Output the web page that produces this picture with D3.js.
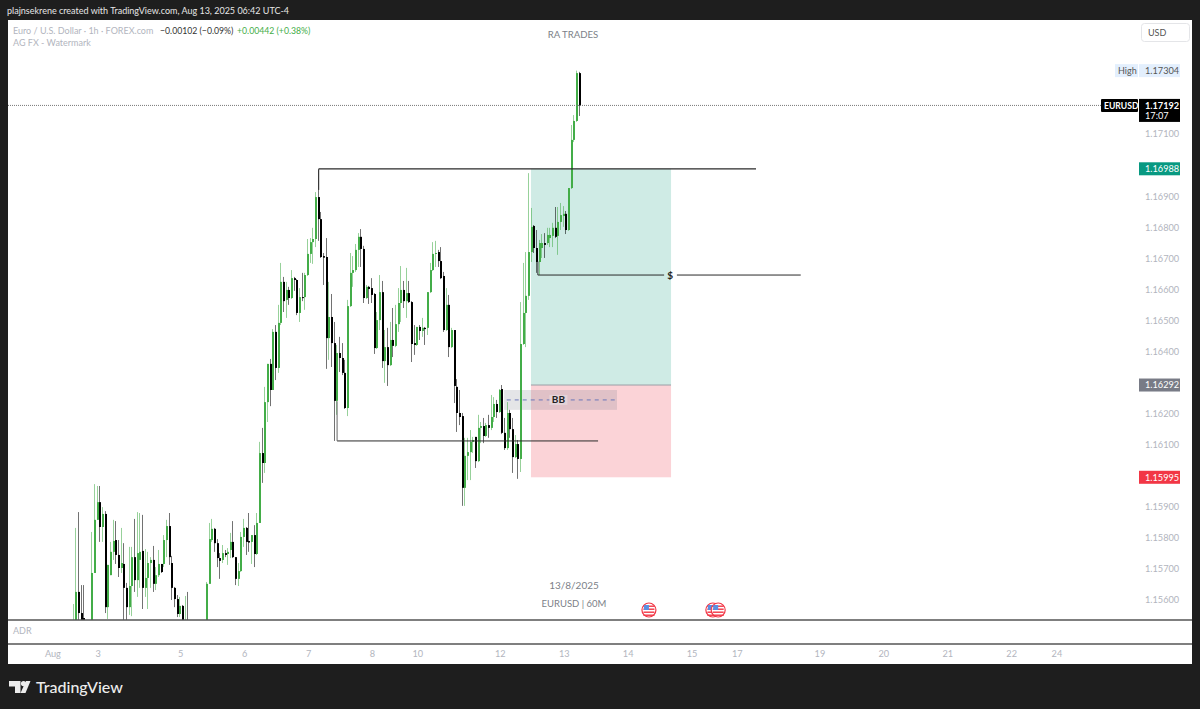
<!DOCTYPE html>
<html>
<head>
<meta charset="utf-8">
<script src="https://cdn.jsdelivr.net/npm/d3@7"></script>
<style>
html, body { margin: 0; padding: 0; background: #1e1e1e; }
svg { display: block; }
text { font-family: Lato, "Noto Sans", sans-serif; }
</style>
</head>
<body>
<script>
// hourly EURUSD bars; bars 44-49 sit below the pane
var opens = [1.15503,1.15520,1.15626,1.15558,1.15542,1.15503,1.15471,1.15520,1.15687,1.15858,1.15915,1.15835,1.15877,1.15577,1.15680,1.15755,1.15793,1.15745,1.15703,1.15716,1.15639,1.15577,1.15645,1.15738,1.15664,1.15729,1.15758,1.15639,1.15671,1.15719,1.15729,1.15652,1.15680,1.15716,1.15716,1.15793,1.15838,1.15719,1.15639,1.15603,1.15555,1.15581,1.15497,1.15510,1.15471,1.15445,1.15478,1.15439,1.15484,1.15455,1.15503,1.15652,1.15793,1.15829,1.15783,1.15735,1.15729,1.15751,1.15748,1.15761,1.15787,1.15738,1.15668,1.15693,1.15803,1.15832,1.15790,1.15787,1.15809,1.15748,1.15848,1.16073,1.16041,1.16237,1.16360,1.16276,1.16463,1.16347,1.16492,1.16624,1.16566,1.16598,1.16572,1.16636,1.16630,1.16524,1.16575,1.16575,1.16646,1.16714,1.16752,1.16762,1.16897,1.16826,1.16707,1.16704,1.16443,1.16511,1.16427,1.16241,1.16395,1.16379,1.16331,1.16218,1.16546,1.16653,1.16662,1.16727,1.16769,1.16730,1.16572,1.16608,1.16604,1.16585,1.16411,1.16501,1.16591,1.16369,1.16414,1.16356,1.16437,1.16418,1.16488,1.16556,1.16598,1.16562,1.16588,1.16559,1.16427,1.16421,1.16479,1.16466,1.16476,1.16476,1.16591,1.16662,1.16714,1.16720,1.16691,1.16643,1.16469,1.16550,1.16414,1.16469,1.16286,1.16202,1.16192,1.15961,1.16064,1.16076,1.16109,1.16125,1.16047,1.16154,1.16160,1.16128,1.16163,1.16154,1.16189,1.16231,1.16205,1.16279,1.16138,1.16089,1.16202,1.16150,1.16060,1.16102,1.16054,1.16424,1.16524,1.16579,1.16720,1.16804,1.16733,1.16688,1.16733,1.16749,1.16749,1.16765,1.16772,1.16798,1.16772,1.16817,1.16836,1.16843,1.16791,1.16926,1.17081,1.17142,1.17296];
var highs = [1.15587,1.15832,1.15883,1.15648,1.15648,1.15520,1.15520,1.15819,1.15973,1.15967,1.15967,1.15899,1.15886,1.15713,1.15787,1.15858,1.15854,1.15793,1.15832,1.15783,1.15655,1.15771,1.15771,1.15861,1.15883,1.15880,1.15874,1.15764,1.15755,1.15738,1.15774,1.15706,1.15761,1.15716,1.15809,1.15858,1.15880,1.15742,1.15642,1.15616,1.15610,1.15584,1.15613,1.15626,1.15503,1.15497,1.15503,1.15510,1.15510,1.15520,1.15658,1.15848,1.15861,1.15832,1.15796,1.15751,1.15777,1.15761,1.15767,1.15816,1.15854,1.15738,1.15719,1.15819,1.15861,1.15835,1.15880,1.15809,1.15841,1.15880,1.16109,1.16154,1.16286,1.16360,1.16376,1.16472,1.16485,1.16550,1.16685,1.16640,1.16624,1.16608,1.16662,1.16640,1.16633,1.16604,1.16653,1.16653,1.16762,1.16765,1.16798,1.16913,1.16984,1.16849,1.16717,1.16765,1.16624,1.16585,1.16495,1.16421,1.16447,1.16427,1.16373,1.16566,1.16717,1.16707,1.16746,1.16781,1.16794,1.16740,1.16614,1.16611,1.16636,1.16588,1.16527,1.16646,1.16627,1.16469,1.16476,1.16495,1.16540,1.16550,1.16604,1.16675,1.16627,1.16669,1.16627,1.16562,1.16485,1.16479,1.16485,1.16508,1.16479,1.16591,1.16685,1.16752,1.16756,1.16727,1.16736,1.16656,1.16604,1.16582,1.16476,1.16469,1.16311,1.16276,1.16202,1.16122,1.16122,1.16147,1.16125,1.16125,1.16196,1.16173,1.16186,1.16170,1.16196,1.16260,1.16253,1.16244,1.16279,1.16292,1.16186,1.16237,1.16212,1.16186,1.16131,1.16115,1.16559,1.16685,1.16720,1.16974,1.16862,1.16807,1.16791,1.16759,1.16778,1.16781,1.16798,1.16798,1.16814,1.16865,1.16865,1.16878,1.16868,1.16852,1.16926,1.17129,1.17161,1.17304,1.17300];
var lows = [1.15471,1.15487,1.15520,1.15471,1.15471,1.15439,1.15439,1.15503,1.15687,1.15858,1.15787,1.15787,1.15558,1.15539,1.15680,1.15729,1.15716,1.15674,1.15687,1.15536,1.15536,1.15552,1.15548,1.15626,1.15610,1.15639,1.15571,1.15610,1.15571,1.15639,1.15626,1.15632,1.15674,1.15687,1.15706,1.15738,1.15713,1.15600,1.15577,1.15545,1.15545,1.15487,1.15471,1.15439,1.15423,1.15423,1.15420,1.15426,1.15433,1.15439,1.15487,1.15652,1.15787,1.15755,1.15706,1.15668,1.15719,1.15738,1.15713,1.15735,1.15735,1.15648,1.15645,1.15690,1.15771,1.15745,1.15755,1.15716,1.15706,1.15745,1.15848,1.15977,1.16009,1.16173,1.16224,1.16276,1.16308,1.16331,1.16485,1.16527,1.16508,1.16550,1.16569,1.16595,1.16517,1.16495,1.16562,1.16534,1.16643,1.16685,1.16682,1.16736,1.16756,1.16701,1.16614,1.16344,1.16373,1.16350,1.16112,1.16196,1.16334,1.16324,1.16215,1.16192,1.16543,1.16608,1.16656,1.16672,1.16672,1.16556,1.16569,1.16553,1.16556,1.16392,1.16408,1.16469,1.16347,1.16299,1.16289,1.16353,1.16382,1.16414,1.16463,1.16495,1.16540,1.16508,1.16556,1.16366,1.16389,1.16418,1.16437,1.16447,1.16421,1.16453,1.16588,1.16659,1.16672,1.16672,1.16633,1.16463,1.16466,1.16382,1.16411,1.16234,1.16141,1.16163,1.15903,1.15903,1.15986,1.15986,1.16073,1.16025,1.16044,1.16105,1.16105,1.16125,1.16122,1.16147,1.16173,1.16186,1.16202,1.16134,1.16083,1.16083,1.16122,1.16009,1.16057,1.15990,1.16012,1.16421,1.16414,1.16566,1.16688,1.16717,1.16653,1.16646,1.16701,1.16701,1.16743,1.16736,1.16736,1.16765,1.16711,1.16791,1.16801,1.16778,1.16788,1.16923,1.17074,1.17139,1.17158];
var closes = [1.15520,1.15626,1.15558,1.15520,1.15503,1.15471,1.15510,1.15687,1.15858,1.15915,1.15835,1.15877,1.15577,1.15713,1.15755,1.15790,1.15745,1.15703,1.15719,1.15639,1.15577,1.15645,1.15738,1.15664,1.15751,1.15755,1.15639,1.15671,1.15719,1.15729,1.15652,1.15680,1.15716,1.15690,1.15793,1.15838,1.15738,1.15639,1.15603,1.15555,1.15581,1.15520,1.15529,1.15471,1.15445,1.15471,1.15439,1.15484,1.15455,1.15503,1.15652,1.15796,1.15829,1.15783,1.15735,1.15726,1.15751,1.15745,1.15755,1.15787,1.15738,1.15668,1.15693,1.15803,1.15832,1.15787,1.15785,1.15809,1.15748,1.15848,1.16073,1.16041,1.16237,1.16360,1.16276,1.16463,1.16347,1.16492,1.16624,1.16562,1.16598,1.16572,1.16636,1.16630,1.16524,1.16575,1.16572,1.16646,1.16714,1.16752,1.16762,1.16897,1.16826,1.16704,1.16702,1.16443,1.16511,1.16427,1.16241,1.16395,1.16379,1.16331,1.16218,1.16546,1.16653,1.16662,1.16727,1.16769,1.16730,1.16572,1.16608,1.16601,1.16582,1.16411,1.16501,1.16591,1.16369,1.16414,1.16356,1.16437,1.16418,1.16488,1.16556,1.16598,1.16562,1.16588,1.16559,1.16424,1.16421,1.16479,1.16466,1.16476,1.16472,1.16591,1.16662,1.16714,1.16717,1.16691,1.16636,1.16469,1.16550,1.16414,1.16469,1.16289,1.16202,1.16189,1.15961,1.16064,1.16076,1.16109,1.16115,1.16047,1.16154,1.16160,1.16128,1.16163,1.16154,1.16189,1.16231,1.16205,1.16276,1.16138,1.16089,1.16202,1.16150,1.16060,1.16102,1.16054,1.16424,1.16524,1.16579,1.16720,1.16801,1.16733,1.16688,1.16749,1.16749,1.16743,1.16775,1.16775,1.16798,1.16769,1.16817,1.16839,1.16843,1.16791,1.16926,1.17081,1.17142,1.17296,1.17192];

// axis labels (1.170, 1.163 and 1.160 are hidden behind the position labels)
var priceTicks = [1.156,1.157,1.158,1.159,1.161,1.162,1.164,1.165,1.166,1.167,1.168,1.169,1.171];
var dayBars = [-8,9,40,64,88,112,129,160,184,208,232,249,280,304,328,352,369];
var dayLabels = ["Aug","3","5","6","7","8","10","12","13","14","15","17","19","20","21","22","24"];
var newsBars = [216,240,242];

// drawing tools, [bar, price]
var targetPrice = 1.16988, entryPrice = 1.16292, stopPrice = 1.15995;
var positionBars = [171.7,224.3];
var highLine = [92,256.2,1.16988], lowLine = [98.9,196.9,1.16112];
var bbBars = [161.6,204,182], bbBand = [1.16276,1.16212], bbPrice = 1.16244;
var dollarPrice = 1.16646, dollarBars = [174.3,221.7,226.5,273,224];

var width = 1200, height = 709;
var frameLeft = 8, frameRight = 1192, frameTop = 20, paneBottom = 620, adrBottom = 644, frameBottom = 664;
var labelX = 1139, labelW = 41;
var axisColor = "#b2b5be", green = "#43ad48";

var x = d3.scaleLinear().domain([0, 190]).range([73.7, 579.7]);
var y = d3.scaleLinear().domain([1.156, 1.171]).range([600, 134]);

var svg = d3.select("body").append("svg").attr("width", width).attr("height", height);

svg.append("rect").attr("x", frameLeft).attr("y", frameTop).attr("width", frameRight - frameLeft)
    .attr("height", frameBottom - frameTop).attr("fill", "#fff");

svg.append("text").attr("x", 7).attr("y", 14).attr("fill", "#e6e6e6").attr("font-size", 9)
    .text("plajnsekrene created with TradingView.com, Aug 13, 2025 06:42 UTC-4");

svg.append("clipPath").attr("id", "pane").append("rect")
    .attr("x", frameLeft).attr("y", frameTop).attr("width", frameRight - frameLeft).attr("height", paneBottom - frameTop);
var pane = svg.append("g").attr("clip-path", "url(#pane)");

// long position box
pane.append("rect").attr("x", x(positionBars[0])).attr("width", x(positionBars[1]) - x(positionBars[0]))
    .attr("y", y(targetPrice)).attr("height", y(entryPrice) - y(targetPrice)).attr("fill", "#cfebe5");
pane.append("rect").attr("x", x(positionBars[0])).attr("width", x(positionBars[1]) - x(positionBars[0]))
    .attr("y", y(entryPrice)).attr("height", y(stopPrice) - y(entryPrice)).attr("fill", "#fbd3d7");
pane.append("line").attr("x1", x(positionBars[0])).attr("x2", x(positionBars[1]))
    .attr("y1", y(entryPrice)).attr("y2", y(entryPrice)).attr("stroke", "#9a9ea6").attr("stroke-width", 1);

// BB block
pane.append("rect").attr("x", x(bbBars[0])).attr("width", x(bbBars[1]) - x(bbBars[0]))
    .attr("y", y(bbBand[0])).attr("height", y(bbBand[1]) - y(bbBand[0])).attr("fill", "#787b86").attr("opacity", 0.2);

// candles
var bars = d3.range(opens.length);
pane.selectAll("line.wick").data(bars).enter().append("line")
    .attr("class", "wick")
    .attr("x1", function (d) { return Math.round(x(d)) - 0.5; })
    .attr("x2", function (d) { return Math.round(x(d)) - 0.5; })
    .attr("y1", function (d) { return y(highs[d]); })
    .attr("y2", function (d) { return y(lows[d]); })
    .attr("stroke", function (d) { return closes[d] < opens[d] ? "#000" : green; })
    .attr("stroke-width", 1)
    .attr("opacity", 0.55);
pane.selectAll("rect.body").data(bars).enter().append("rect")
    .attr("class", "body")
    .attr("x", function (d) { return Math.round(x(d)) - 1; })
    .attr("width", 2)
    .attr("y", function (d) { return y(Math.max(opens[d], closes[d])); })
    .attr("height", function (d) { return Math.max(1, Math.abs(y(opens[d]) - y(closes[d]))); })
    .attr("fill", function (d) { return closes[d] < opens[d] ? "#000" : green; });

// last price dotted line
pane.append("line").attr("x1", frameLeft).attr("x2", 1101).attr("y1", y(closes[190])).attr("y2", y(closes[190]))
    .attr("stroke", "#777").attr("stroke-width", 1).attr("stroke-dasharray", "1 1");

// trend lines
function segment(b1, b2, p1, p2, color) {
    return pane.append("line").attr("x1", x(b1)).attr("x2", x(b2)).attr("y1", y(p1)).attr("y2", y(p2))
        .attr("stroke", color || "#2a2a2a").attr("stroke-width", 1);
}
segment(highLine[0], highLine[1], highLine[2], highLine[2]).attr("stroke-width", 1.3);
segment(highLine[0], highLine[0], highLine[2], 1.1692);
segment(lowLine[0], lowLine[1], lowLine[2], lowLine[2]);
segment(lowLine[0], lowLine[0], lowLine[2], 1.1624, "#666");
segment(dollarBars[0], dollarBars[1], dollarPrice, dollarPrice);
segment(dollarBars[2], dollarBars[3], dollarPrice, dollarPrice);
segment(dollarBars[0], dollarBars[0], dollarPrice, 1.1669);
segment(bbBars[0] + 1, bbBars[1], bbPrice, bbPrice, "#6a76b8").attr("stroke-dasharray", "4 4");

pane.append("text").attr("x", x(dollarBars[4])).attr("y", y(dollarPrice) + 3.5).attr("text-anchor", "middle")
    .attr("font-size", 10).attr("font-weight", 700).attr("fill", "#222").text("$");
var bbLabelX = x(bbBars[2]);
pane.append("rect").attr("x", bbLabelX - 9).attr("y", y(bbPrice) - 5).attr("width", 18).attr("height", 10).attr("fill", "#e4d3d8");
pane.append("text").attr("x", bbLabelX).attr("y", y(bbPrice) + 3.5).attr("text-anchor", "middle")
    .attr("font-size", 10).attr("font-weight", 700).attr("fill", "#222").text("BB");

// captions on the chart
var caption = function (tx, ty, s, size) {
    svg.append("text").attr("x", tx).attr("y", ty).attr("text-anchor", "middle")
        .attr("font-size", size).attr("fill", "#7c7f88").text(s);
};
caption(573, 38, "RA TRADES", 9.6);
caption(574, 589, "13/8/2025", 10);
caption(574, 607, "EURUSD | 60M", 9.5);

// economic event flags
var flags = pane.selectAll("g.flag").data(newsBars).enter().append("g")
    .attr("class", "flag")
    .attr("transform", function (d) { return "translate(" + x(d) + ",610)"; });
flags.append("circle").attr("r", 7).attr("fill", "#fff").attr("stroke", "#f23645").attr("stroke-width", 1.2);
[-4, -1, 2, 5].forEach(function (dy) {
    flags.append("rect").attr("x", -5.5).attr("y", dy - 0.5).attr("width", 11).attr("height", 1.4).attr("fill", "#f23645");
});
flags.append("rect").attr("x", -5).attr("y", -5).attr("width", 5).attr("height", 5).attr("fill", "#5b8fe0");

// price axis
var yAxis = d3.axisRight(y).tickValues(priceTicks).tickSize(0).tickPadding(0)
    .tickFormat(d3.format(".5f"));
var yg = svg.append("g").attr("transform", "translate(" + (labelX + 6) + ",0)").call(yAxis);
yg.select(".domain").remove();
yg.selectAll("text").attr("fill", axisColor).attr("font-size", 9.2).attr("font-family", "Lato");

// time axis
var xAxis = d3.axisBottom(x).tickValues(dayBars).tickSize(0).tickPadding(0)
    .tickFormat(function (d, i) { return dayLabels[i]; });
var xg = svg.append("g").attr("transform", "translate(0,650)").call(xAxis);
xg.select(".domain").remove();
xg.selectAll("text").attr("fill", axisColor).attr("font-size", 9.2).attr("font-family", "Lato");

// pane separators
[paneBottom, adrBottom].forEach(function (py) {
    svg.append("line").attr("x1", frameLeft).attr("x2", frameRight).attr("y1", py).attr("y2", py)
        .attr("stroke", "#555").attr("stroke-width", 1.4);
});
svg.append("text").attr("x", 13).attr("y", 634).attr("font-size", 9).attr("fill", axisColor).text("ADR");

// legend
svg.append("text").attr("x", 13).attr("y", 34).attr("font-size", 9).attr("fill", axisColor)
    .text("Euro / U.S. Dollar · 1h · FOREX.com");
svg.append("text").attr("x", 160).attr("y", 34).attr("font-size", 8.7).attr("fill", "#333")
    .text("−0.00102 (−0.09%)");
svg.append("text").attr("x", 237).attr("y", 34).attr("font-size", 8.7).attr("fill", green)
    .text("+0.00442 (+0.38%)");
svg.append("text").attr("x", 13).attr("y", 46).attr("font-size", 9).attr("fill", axisColor)
    .text("AG FX - Watermark");

// price labels
function priceLabel(p, fill, color, s) {
    svg.append("rect").attr("x", labelX).attr("y", y(p) - 6.5).attr("width", labelW).attr("height", 13).attr("fill", fill);
    svg.append("text").attr("x", labelX + 6).attr("y", y(p) + 3.3).attr("font-size", 9.2).attr("fill", color).text(s);
}
priceLabel(targetPrice, "#089981", "#fff", targetPrice.toFixed(5));
priceLabel(entryPrice, "#787b86", "#fff", entryPrice.toFixed(5));
priceLabel(stopPrice, "#f23645", "#fff", stopPrice.toFixed(5));

var highest = d3.max(highs);
svg.append("rect").attr("x", 1115).attr("y", y(highest) - 6.5).attr("width", 23).attr("height", 13).attr("fill", "#e3effd");
svg.append("text").attr("x", 1118).attr("y", y(highest) + 3.3).attr("font-size", 9).attr("fill", "#555").text("High");
priceLabel(highest, "#e3effd", "#555", highest.toFixed(5));

svg.append("rect").attr("x", 1101).attr("y", y(closes[190]) - 6.5).attr("width", 37).attr("height", 13).attr("rx", 1).attr("fill", "#000");
svg.append("text").attr("x", 1104).attr("y", y(closes[190]) + 3.3).attr("font-size", 8.6).attr("font-weight", 700).attr("fill", "#fff").text("EURUSD");
svg.append("rect").attr("x", labelX).attr("y", y(closes[190]) - 6.5).attr("width", labelW).attr("height", 23).attr("fill", "#000");
svg.append("text").attr("x", labelX + 6).attr("y", y(closes[190]) + 3.3).attr("font-size", 9.2).attr("font-weight", 700).attr("fill", "#fff").text(closes[190].toFixed(5));
svg.append("text").attr("x", labelX + 6).attr("y", y(closes[190]) + 14).attr("font-size", 9.2).attr("fill", "#fff").text("17:07");

// currency button
svg.append("rect").attr("x", 1141.5).attr("y", 23.5).attr("width", 48).attr("height", 18).attr("rx", 3)
    .attr("fill", "#fff").attr("stroke", "#e4e5e8");
svg.append("text").attr("x", 1148).attr("y", 36).attr("font-size", 9).attr("fill", "#555").text("USD");

// TradingView mark
var logo = svg.append("g").attr("fill", "#ececec");
logo.append("path").attr("d", "M9 681h11.5v12h-5.5v-6.5H9z");
logo.append("circle").attr("cx", 23.5).attr("cy", 683.6).attr("r", 2.6);
logo.append("path").attr("d", "M26 681h4.5l-5 12h-5z");
svg.append("text").attr("x", 36).attr("y", 693).attr("font-size", 16).attr("font-weight", 500)
    .attr("font-family", "Inter").attr("fill", "#ececec").text("TradingView");
</script>
</body>
</html>
